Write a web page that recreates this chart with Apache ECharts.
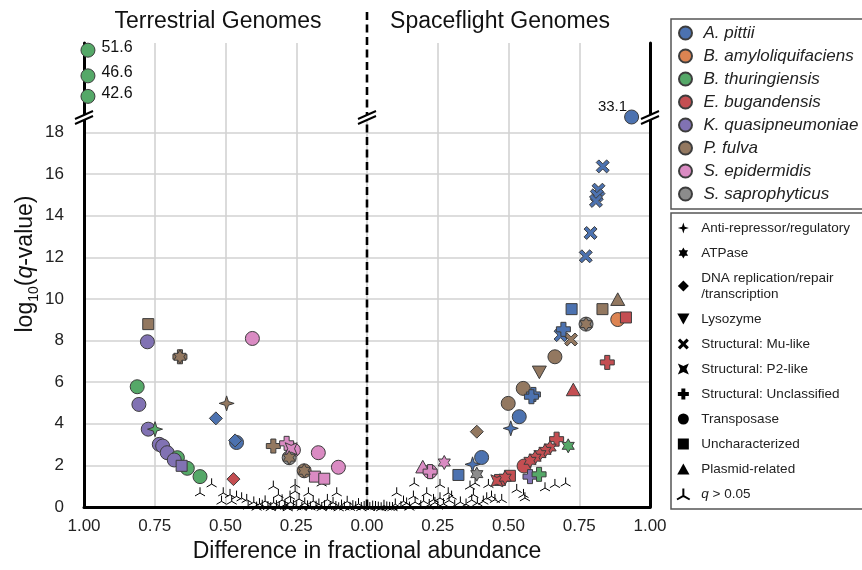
<!DOCTYPE html>
<html>
<head>
<meta charset="utf-8">
<script src="https://cdn.jsdelivr.net/npm/echarts@6.0.0/dist/echarts.min.js"></script>
<style>
  html, body { margin: 0; padding: 0; background: #fff; }
  #chart { width: 862px; height: 570px; }
</style>
</head>
<body>
<div id="chart"></div>
<script>
// species (colour legend)
const species = ['A. pittii', 'B. amyloliquifaciens', 'B. thuringiensis', 'E. bugandensis',
  'K. quasipneumoniae', 'P. fulva', 'S. epidermidis', 'S. saprophyticus'];
const speciesColors = ['#4C72B0', '#DD8452', '#55A868', '#C44E52', '#8172B3', '#937860', '#DA8BC3', '#8C8C8C'];

// points: [difference (terrestrial < 0), log10 q, species index]
const transposase = [
  [-0.776, 7.94, 4], [-0.405, 8.10, 6], [-0.812, 5.78, 2], [-0.806, 4.93, 4], [-0.773, 3.74, 4],
  [-0.461, 3.10, 0], [-0.734, 3.01, 4], [-0.722, 2.93, 4], [-0.706, 2.61, 4], [-0.670, 2.37, 2],
  [-0.681, 2.26, 4], [-0.635, 1.86, 2], [-0.590, 1.46, 2], [-0.260, 2.74, 6], [-0.275, 2.37, 7],
  [-0.172, 2.61, 6], [-0.101, 1.91, 6], [-0.222, 1.74, 5],
  [0.886, 9.01, 1], [0.774, 8.79, 7], [0.664, 7.22, 5], [0.552, 5.70, 5], [0.499, 4.98, 5],
  [0.538, 4.34, 0], [0.405, 2.38, 0], [0.555, 1.97, 3], [0.223, 1.70, 6]
];
const uncharacterized = [
  [-0.773, 8.79, 5], [-0.184, 1.46, 6], [-0.151, 1.36, 6], [-0.655, 1.98, 4],
  [0.723, 9.51, 0], [0.832, 9.51, 5], [0.915, 9.11, 3], [0.323, 1.54, 0], [0.505, 1.50, 3], [0.470, 1.30, 3]
];
const antiRepressor = [[-0.496, 4.98, 5], [-0.749, 3.74, 2], [0.508, 3.78, 0], [0.373, 2.05, 0]];
const dnaReplication = [[-0.534, 4.26, 0], [-0.466, 3.20, 0], [-0.472, 1.34, 3], [0.388, 3.62, 5]];
const atpase = [
  [-0.661, 7.22, 5], [-0.275, 2.37, 5], [-0.222, 1.74, 5], [0.774, 8.79, 5], [0.711, 2.94, 2],
  [0.647, 2.86, 3], [0.629, 2.70, 3], [0.611, 2.54, 3], [0.594, 2.37, 3], [0.576, 2.22, 3],
  [0.388, 1.58, 7], [0.273, 2.14, 6], [0.488, 1.41, 3]
];
const lysozyme = [[0.609, 6.47, 5]];
const muLike = [
  [0.833, 16.37, 0], [0.818, 15.25, 0], [0.812, 14.98, 0], [0.809, 14.71, 0], [0.790, 13.17, 0],
  [0.773, 12.05, 0], [0.684, 8.26, 0], [0.721, 8.05, 5]
];
const p2Like = [[-0.268, 2.80, 6], [0.459, 1.26, 3]];
const unclassified = [
  [-0.661, 7.22, 5], [-0.331, 2.93, 5], [-0.284, 3.06, 6], [0.849, 6.95, 3], [0.694, 8.54, 0],
  [0.588, 5.41, 0], [0.581, 5.30, 0], [0.670, 3.26, 3], [0.576, 1.46, 4], [0.608, 1.57, 2], [0.223, 1.70, 6]
];
const plasmid = [[0.886, 9.99, 5], [0.729, 5.65, 3], [0.197, 1.94, 6]];
const notSignificant = [
  [-0.590, 0.74], [-0.549, 1.17], [-0.508, 0.74], [-0.514, 0.34], [-0.484, 0.66], [-0.478, 0.34],
  [-0.461, 0.58], [-0.443, 0.50], [-0.425, 0.42], [-0.331, 1.06], [-0.313, 0.66], [-0.272, 0.58],
  [-0.254, 1.14], [-0.254, 0.82], [-0.207, 0.74], [-0.160, 1.21], [-0.107, 0.74],
  [-0.40, 0.30], [-0.38, 0.22], [-0.36, 0.35], [-0.33, 0.28], [-0.30, 0.40], [-0.29, 0.18],
  [-0.27, 0.30], [-0.24, 0.45], [-0.22, 0.25], [-0.19, 0.35], [-0.17, 0.20], [-0.14, 0.42],
  [-0.12, 0.28], [-0.09, 0.15], [-0.07, 0.33], [-0.05, 0.12], [-0.03, 0.22], [-0.01, 0.08],
  [-0.42, 0.10], [-0.39, 0.05], [-0.37, 0.14], [-0.35, 0.08], [-0.34, 0.03], [-0.32, 0.12],
  [-0.31, 0.06], [-0.29, 0.09], [-0.28, 0.02], [-0.26, 0.13], [-0.25, 0.07], [-0.23, 0.04],
  [-0.21, 0.11], [-0.20, 0.06], [-0.18, 0.09], [-0.16, 0.03], [-0.15, 0.12], [-0.13, 0.05],
  [-0.11, 0.08], [-0.10, 0.02], [-0.08, 0.06], [-0.06, 0.04], [-0.04, 0.07], [-0.02, 0.03],
  [0.105, 0.74], [0.167, 1.21], [0.164, 0.58], [0.129, 0.34], [0.258, 1.14], [0.211, 0.74],
  [0.287, 0.74], [0.299, 0.58], [0.258, 0.50], [0.235, 0.42], [0.376, 0.66], [0.364, 1.06],
  [0.382, 1.21], [0.429, 1.14], [0.423, 0.50], [0.452, 0.42], [0.476, 0.42], [0.529, 0.90],
  [0.558, 0.50], [0.629, 0.98], [0.664, 1.14], [0.702, 1.21], [0.411, 0.34], [0.440, 0.58], [0.553, 0.66],
  [0.02, 0.10], [0.04, 0.05], [0.06, 0.14], [0.08, 0.04], [0.10, 0.20], [0.12, 0.08], [0.14, 0.25],
  [0.15, 0.05], [0.17, 0.30], [0.19, 0.12], [0.20, 0.35], [0.22, 0.18], [0.24, 0.28], [0.25, 0.10],
  [0.27, 0.22], [0.29, 0.38], [0.31, 0.15], [0.33, 0.30], [0.35, 0.20], [0.37, 0.40], [0.39, 0.26],
  [0.01, 0.03], [0.03, 0.08], [0.05, 0.02], [0.07, 0.06], [0.09, 0.03]
];
// clipped outliers above the axis break
const terrestrialOutliers = [[-0.986, 51.6, 2], [-0.986, 46.6, 2], [-0.986, 42.6, 2]];
const spaceflightOutliers = [[0.935, 33.1, 0]];

const FONT = '"Liberation Sans", Arial, Helvetica, sans-serif';
const EDGE = '#3d3d3d';

function starPath(n, rOut, rIn, rot) {
  let d = '';
  for (let i = 0; i < 2 * n; i++) {
    const r = i % 2 ? rIn : rOut;
    const a = rot + i * Math.PI / n;
    d += (i ? 'L' : 'M') + (r * Math.cos(a)).toFixed(2) + ',' + (r * Math.sin(a)).toFixed(2);
  }
  return 'path://' + d + 'Z';
}
const SYM = {
  anti: starPath(4, 10, 3.4, -Math.PI / 2),
  atp: starPath(6, 10, 5.6, -Math.PI / 2),
  diamond: 'path://M0,-10L10,0L0,10L-10,0Z',
  square: 'path://M-10,-10L10,-10L10,10L-10,10Z',
  triangle: 'path://M0,-10L10,8L-10,8Z',
  lyso: 'path://M-10,-8L10,-8L0,10Z',
  mu: 'path://M0,-4L6,-10L10,-6L4,0L10,6L6,10L0,4L-6,10L-10,6L-4,0L-10,-6L-6,-10Z',
  p2: 'path://M-8,-8L0,-4.5L8,-8L4.5,0L8,8L0,4.5L-8,8L-4.5,0Z',
  plus: 'path://M-3.6,-10L3.6,-10L3.6,-3.6L10,-3.6L10,3.6L3.6,3.6L3.6,10L-3.6,10L-3.6,3.6L-10,3.6L-10,-3.6L-3.6,-3.6Z',
  tri: 'path://M0,0L0,-10M0,0L-8.66,5M0,0L8.66,5'
};

function pts(arr) {
  return arr.map(p => ({
    value: [p[0], p[1]],
    itemStyle: { color: speciesColors[p[2]], borderColor: EDGE, borderWidth: 1, opacity: 1 }
  }));
}
function cat(name, symbol, size, arr) {
  return {
    type: 'scatter', name, symbol, symbolSize: size, symbolKeepAspect: true,
    xAxisIndex: 0, yAxisIndex: 0, data: pts(arr),
    itemStyle: { color: '#000', borderColor: '#000', borderWidth: 0, opacity: 1 },
    emphasis: { disabled: true }
  };
}

const series = [
  {
    type: 'scatter', name: 'q > 0.05', symbol: SYM.tri, symbolSize: 10, symbolKeepAspect: true,
    xAxisIndex: 0, yAxisIndex: 0, data: notSignificant, clip: false,
    itemStyle: { color: 'rgba(0,0,0,0)', borderColor: '#000', borderWidth: 1, opacity: 1 },
    emphasis: { disabled: true }
  },
  cat('Transposase', 'circle', 14, transposase),
  cat('Uncharacterized', SYM.square, 11, uncharacterized),
  cat('DNA replication/repair/transcription', SYM.diamond, 13, dnaReplication),
  cat('Lysozyme', SYM.lyso, 14, lysozyme),
  cat('Structural: Mu-like', SYM.mu, 13, muLike),
  cat('Plasmid-related', SYM.triangle, 14, plasmid),
  cat('Structural: Unclassified', SYM.plus, 14, unclassified),
  cat('Structural: P2-like', SYM.p2, 12, p2Like),
  cat('Anti-repressor/regulatory', SYM.anti, 15, antiRepressor),
  cat('ATPase', SYM.atp, 14, atpase),
  {
    type: 'scatter', name: 'Transposase', symbol: 'circle', symbolSize: 14, clip: false,
    xAxisIndex: 1, yAxisIndex: 2, data: pts(terrestrialOutliers),
    label: { show: true, position: 'right', distance: 6, offset: [0, -3], formatter: p => p.value[1].toFixed(1),
      fontSize: 16, color: '#111', fontFamily: FONT },
    emphasis: { disabled: true }
  },
  {
    type: 'scatter', name: 'Transposase', symbol: 'circle', symbolSize: 14, clip: false,
    xAxisIndex: 2, yAxisIndex: 3, data: pts(spaceflightOutliers),
    label: { show: true, position: 'left', distance: 1, offset: [4, -10], formatter: p => p.value[1].toFixed(1),
      fontSize: 15, color: '#111', fontFamily: FONT },
    emphasis: { disabled: true }
  }
];
species.forEach((s, i) => series.push({
  type: 'scatter', name: s, symbol: 'circle', data: [],
  itemStyle: { color: speciesColors[i], borderColor: EDGE, borderWidth: 1, opacity: 1 }
}));

const categoryLegend = ['Anti-repressor/regulatory', 'ATPase', 'DNA replication/repair/transcription', 'Lysozyme',
  'Structural: Mu-like', 'Structural: P2-like', 'Structural: Unclassified', 'Transposase',
  'Uncharacterized', 'Plasmid-related', 'q > 0.05'];

const gridLine = { show: true, showMinLine: false, showMaxLine: false, lineStyle: { color: '#d2d2d2', width: 1.6 } };
const blackLine = { show: true, onZero: false, lineStyle: { color: '#000', width: 3 } };
const hiddenLine = { show: false, onZero: false };
const hidden = { show: false };

const chart = echarts.init(document.getElementById('chart'), null, { renderer: 'canvas' });
chart.setOption({
  animation: false,
  backgroundColor: '#fff',
  textStyle: { fontFamily: FONT },
  grid: [
    { left: 84, width: 566, top: 120, height: 387 },
    { left: 84, width: 283, top: 43, height: 77 },
    { left: 367, width: 283, top: 43, height: 77 }
  ],
  xAxis: [
    {
      type: 'value', gridIndex: 0, min: -1, max: 1, interval: 0.25,
      axisLine: blackLine, axisTick: hidden, splitLine: gridLine,
      axisLabel: { fontSize: 17, color: '#222', margin: 11, formatter: v => Math.abs(v).toFixed(2) },
      name: 'Difference in fractional abundance', nameLocation: 'middle', nameGap: 31,
      nameTextStyle: { fontSize: 23, color: '#111' }
    },
    { type: 'value', gridIndex: 1, min: -1, max: 0, interval: 0.25, axisLine: hiddenLine, axisTick: hidden, axisLabel: hidden, splitLine: gridLine },
    { type: 'value', gridIndex: 2, min: 0, max: 1, interval: 0.25, axisLine: hiddenLine, axisTick: hidden, axisLabel: hidden, splitLine: gridLine }
  ],
  yAxis: [
    {
      type: 'value', gridIndex: 0, min: 0, max: 18.6, interval: 2,
      axisLine: blackLine, axisTick: hidden, splitLine: gridLine,
      axisLabel: { fontSize: 17, color: '#222', margin: 20, showMaxLabel: false }
    },
    { type: 'value', gridIndex: 0, position: 'right', min: 0, max: 18.6, axisLine: blackLine, axisTick: hidden, axisLabel: hidden, splitLine: hidden },
    { type: 'value', gridIndex: 1, position: 'left', min: 38, max: 53, axisLine: blackLine, axisTick: hidden, axisLabel: hidden, splitLine: hidden },
    { type: 'value', gridIndex: 2, position: 'right', min: 32.8, max: 40.5, axisLine: blackLine, axisTick: hidden, axisLabel: hidden, splitLine: hidden }
  ],
  legend: [
    {
      data: species, orient: 'vertical', left: 671, top: 19, selectedMode: false,
      itemWidth: 26, itemHeight: 13, itemGap: 5, padding: [5, 40, 6, 7], symbolKeepAspect: true,
      borderColor: '#555', borderWidth: 1.5, borderRadius: 0,
      textStyle: { fontSize: 17, fontStyle: 'italic', color: '#222', lineHeight: 18 }
    },
    {
      data: categoryLegend, orient: 'vertical', left: 671, top: 213, selectedMode: false,
      itemWidth: 26, itemHeight: 11, itemGap: 9, padding: [7, 40, 7, 5], symbolKeepAspect: true,
      borderColor: '#555', borderWidth: 1.5, borderRadius: 0,
      formatter: n => n === 'q > 0.05' ? '{i|q} > 0.05' : n.replace('repair/', 'repair\n/'),
      textStyle: { fontSize: 13.5, color: '#222', lineHeight: 16,
        rich: { i: { fontSize: 13.5, fontStyle: 'italic', color: '#222' } } }
    }
  ],
  series
});

// decorations: panel titles, y label, centre divider and axis-break marks
const origin = chart.convertToPixel({ xAxisIndex: 0, yAxisIndex: 0 }, [0, 0]);
const breakY = chart.convertToPixel({ xAxisIndex: 0, yAxisIndex: 0 }, [0, 18.6])[1];
const breakXs = [-1, 0, 1].map(v => chart.convertToPixel({ xAxisIndex: 0, yAxisIndex: 0 }, [v, 0])[0]);
const graphic = [
  { type: 'text', x: 218, y: 22, z: 100, style: { text: 'Terrestrial Genomes', font: '23px ' + FONT, fill: '#111', align: 'center', verticalAlign: 'middle' } },
  { type: 'text', x: 500, y: 22, z: 100, style: { text: 'Spaceflight Genomes', font: '23px ' + FONT, fill: '#111', align: 'center', verticalAlign: 'middle' } },
  {
    type: 'text', x: 26, y: 264, rotation: Math.PI / 2, z: 100,
    style: {
      text: '{a|log}{b|10}{a|(}{c|q}{a|-value)}', align: 'center', verticalAlign: 'middle', fill: '#111',
      rich: {
        a: { fontSize: 23, lineHeight: 30, fontFamily: FONT, fill: '#111' },
        b: { fontSize: 14, lineHeight: 14, verticalAlign: 'bottom', fontFamily: FONT, fill: '#111' },
        c: { fontSize: 23, lineHeight: 30, fontStyle: 'italic', fontFamily: FONT, fill: '#111' }
      }
    }
  },
  { type: 'line', z: 1, shape: { x1: origin[0], y1: 12, x2: origin[0], y2: origin[1] }, style: { stroke: '#000', lineWidth: 2.6, lineDash: [8, 4.5] } }
];
breakXs.forEach(x => {
  graphic.push({ type: 'polygon', z: 100, shape: { points: [[x - 9, breakY - 1], [x + 9, breakY - 9], [x + 9, breakY - 4], [x - 9, breakY + 4]] }, style: { fill: '#fff' } });
  graphic.push({ type: 'line', z: 101, shape: { x1: x - 9, y1: breakY - 1, x2: x + 9, y2: breakY - 9 }, style: { stroke: '#000', lineWidth: 2 } });
  graphic.push({ type: 'line', z: 101, shape: { x1: x - 9, y1: breakY + 4, x2: x + 9, y2: breakY - 4 }, style: { stroke: '#000', lineWidth: 2 } });
});
chart.setOption({ graphic });
</script>
</body>
</html>
